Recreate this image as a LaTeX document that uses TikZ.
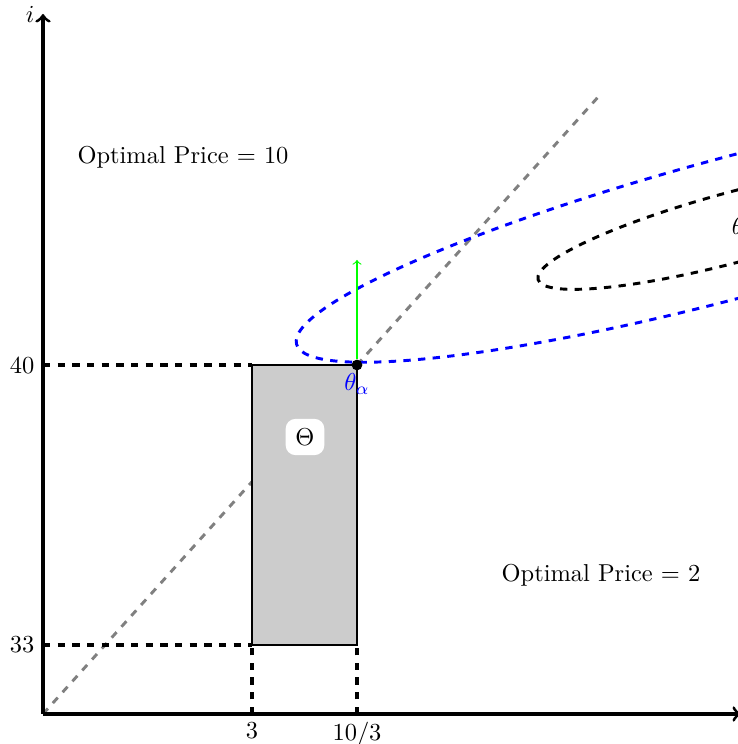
\documentclass[tikz,border=0pt]{standalone}
\usetikzlibrary{arrows}
\begin{document}
\begin{tikzpicture}[x=0.409pt,y=0.409pt,>=to,
  axisline/.style={line width=1.25pt,->},
  guide/.style={line width=1.25pt,dashed},
  lvl/.style={line width=1.2pt,dashed},
  diag/.style={line width=1.2pt,dashed,gray},
  lbl/.style={inner sep=3.33pt}]
\useasboundingbox (0,0) rectangle (738,744);
\clip (0,0) rectangle (738,744);
% coordinates
\coordinate (O) at (43,30);
\coordinate (Y) at (43,730);
\coordinate (X) at (741,30);
\coordinate (G) at (599,648);
\coordinate (T40) at (43,379);
\coordinate (T33) at (43,99);
\coordinate (T3) at (252,30);
\coordinate (T103) at (357,30);
\coordinate (RLL) at (252,99);
\coordinate (RUL) at (252,379);
\coordinate (RLR) at (357,99);
\coordinate (RUR) at (357,379);
\coordinate (GA) at (357,484);
\coordinate (C) at (738,518);
% diagonal
\draw[diag] (O) -- (G);
% rectangle
\draw[fill=gray!40,line width=0.9pt] (RLL) rectangle (RUR);
\node[fill=white,rounded corners=4pt,inner sep=4pt] (Th) at (305,307) {$\Theta$};
% guides
\draw[guide] (T40) -- (RUL);
\draw[guide] (T33) -- (RLL);
\draw[guide] (T3) -- (RLL);
\draw[guide] (T103) -- (RLR);
% axes
\draw[axisline] (O) -- (Y);
\draw[axisline] (O) -- (X);
\node[left,lbl] (li) at (Y) {$i$};
\node[left,lbl] (l40) at (T40) {40};
\node[left,lbl] (l33) at (T33) {33};
\node[below,lbl] (l3) at (T3) {3};
\node[below,lbl] (l103) at (T103) {$10/3$};
% ellipses
\draw[lvl,blue,rotate around={15:(C)}] (C) ellipse [x radius=457,y radius=70];
\draw[lvl,black,rotate around={15:(C)}] (C) ellipse [x radius=207,y radius=35];
\node (th) at (C) {$\theta$};
% point
\node[circle,fill=black,inner sep=0pt,minimum size=4.4pt] (ta) at (RUR) {};
\draw[->,green,line width=0.45pt] (ta) -- (GA);
\node[blue,anchor=north,inner sep=0pt] (tal) at (357,371) {$\theta_\alpha$};
% texts
\node (p10) at (183,587) {Optimal Price = 10};
\node (p2) at (601,169) {Optimal Price = 2};
\end{tikzpicture}
\end{document}
